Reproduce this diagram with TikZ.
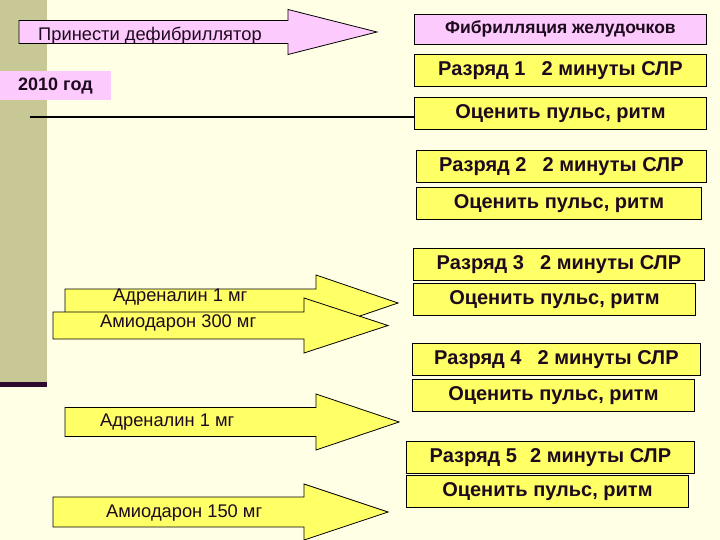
\documentclass[tikz,border=0pt]{standalone}
\usepackage{fontspec}
\setmainfont{Liberation Sans}
\usetikzlibrary{positioning}
\definecolor{Cream}{HTML}{FFFFE5}
\definecolor{Khaki}{HTML}{C8C896}
\definecolor{Plum}{HTML}{2E0A2E}
\definecolor{Ink}{HTML}{1E0A1E}
\definecolor{Lemon}{HTML}{FFFF66}
\definecolor{Pink}{HTML}{FCCAFC}
\tikzset{
 ybox/.style={draw=black, line width=0.8pt, fill=Lemon, text=Ink, font=\bfseries\fontsize{20}{24}\selectfont, minimum height=32pt, inner sep=0pt, anchor=north west},
 pbox/.style={ybox, fill=Pink, minimum height=30pt, font=\bfseries\fontsize{17.5}{20}\selectfont},
 lbl/.style={text=Ink, font=\fontsize{18.3}{22}\selectfont, inner sep=0pt, anchor=west},
 yarrow/.style={draw=black, line width=0.8pt, fill=Lemon},
 parrow/.style={yarrow, fill=Pink}
}
% style, tail x, head base x, tip x, mid y, half body, half head
\newcommand{\fatarrow}[7]{%
 \filldraw[#1] (#2,{#5-#6}) -- (#3,{#5-#6}) -- (#3,{#5-#7}) -- (#4,#5)
   -- (#3,{#5+#7}) -- (#3,{#5+#6}) -- (#2,{#5+#6}) -- cycle;}
\newcommand{\gap}{\hspace{16pt}}

\begin{document}
\begin{tikzpicture}[x=1pt,y=-1pt]
\fill[Cream] (0,0) rectangle (720,540);
\useasboundingbox (0,0) rectangle (720,540);
\fill[Khaki] (0,0) rectangle (47,382);
\fill[Plum] (0,382) rectangle (47,387);

% top arrow and year
\fatarrow{parrow}{19}{288}{377}{32}{11.5}{22.5}
\node[lbl] (defib) at (38,36) {Принести дефибриллятор};
\fill[Pink] (0,71) rectangle (111,100);
\node[lbl, font=\bfseries\fontsize{18}{22}\selectfont] (year) at (18,86) {2010 год};

% right column
\node[pbox, minimum width=292pt] (vf) at (414,14) {Фибрилляция желудочков};
\node[ybox, minimum width=292pt] (shock1) at (414,54) {Разряд 1\gap 2 минуты СЛР};
\node[ybox, minimum width=292pt] (check1) at (414,97) {Оценить пульс, ритм};
\node[ybox, minimum width=290pt] (shock2) at (416,150) {Разряд 2\gap 2 минуты СЛР};
\node[ybox, minimum width=285pt, below=4pt of shock2.south west, anchor=north west] (check2) {Оценить пульс, ритм};
\node[ybox, minimum width=291pt] (shock3) at (413,248) {Разряд 3\gap 2 минуты СЛР};
\node[ybox, minimum width=282pt, below=2pt of shock3.south west, anchor=north west] (check3) {Оценить пульс, ритм};
\node[ybox, minimum width=288pt] (shock4) at (412,343) {Разряд 4\gap 2 минуты СЛР};
\node[ybox, minimum width=282pt, below=3pt of shock4.south west, anchor=north west] (check4) {Оценить пульс, ритм};
\node[ybox, minimum width=288pt] (shock5) at (406,441) {Разряд 5\hspace{13pt}2 минуты СЛР};
\node[ybox, minimum width=282pt, below=1pt of shock5.south west, anchor=north west] (check5) {Оценить пульс, ритм};

\coordinate (start) at (30,117);
\draw[line width=1.6pt] (start) -- (start -| check1.west);

% drugs
\fatarrow{yarrow}{65}{316}{398}{303}{14}{28}
\node[lbl] (adr1) at (113,297) {Адреналин 1 мг};
\fatarrow{yarrow}{53}{304}{388}{325.5}{13.5}{27.5}
\node[lbl] (amio1) at (100,323) {Амиодарон 300 мг};
\fatarrow{yarrow}{65}{316}{399}{422}{14.5}{28}
\node[lbl] (adr2) at (100,422) {Адреналин 1 мг};
\fatarrow{yarrow}{53}{304}{388}{512}{15}{28}
\node[lbl] (amio2) at (106,513) {Амиодарон 150 мг};
\end{tikzpicture}
\end{document}
